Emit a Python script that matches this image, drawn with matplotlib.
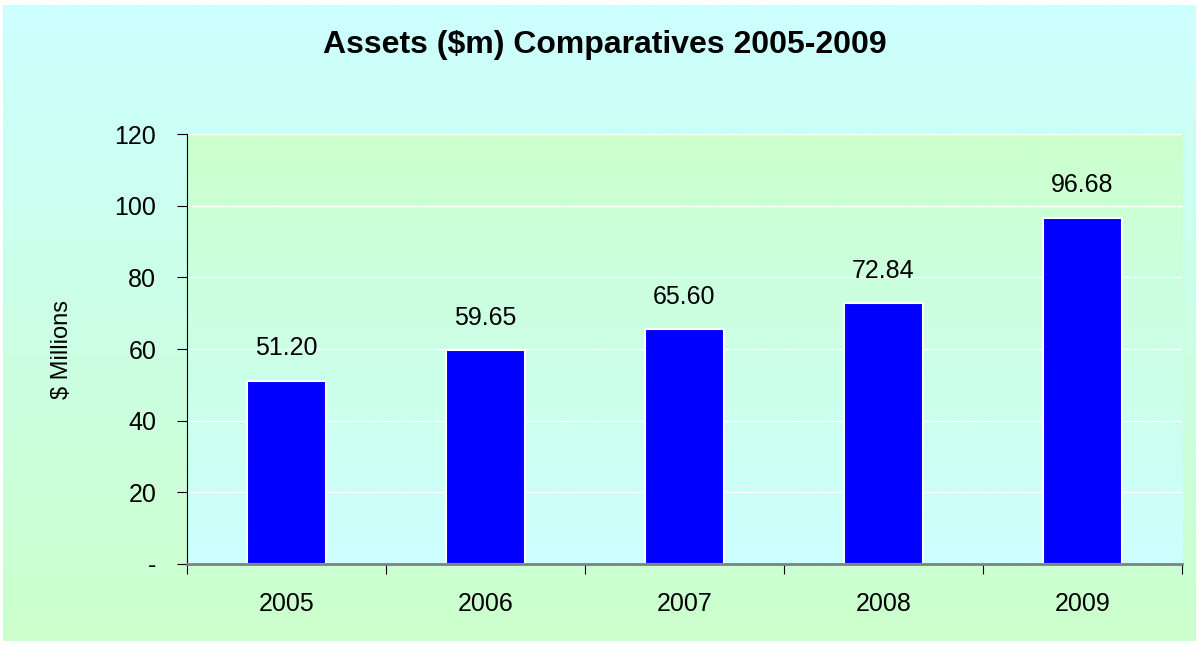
import numpy as np
import matplotlib.pyplot as plt

# --- Data ---
years = ["2005", "2006", "2007", "2008", "2009"]
assets = [51.20, 59.65, 65.60, 72.84, 96.68]
y_ticks = [0, 20, 40, 60, 80, 100, 120]
y_tick_labels = ["-", "20", "40", "60", "80", "100", "120"]

plt.rcParams['font.family'] = ['Liberation Sans', 'DejaVu Sans']

fig = plt.figure(figsize=(11.98, 6.45), dpi=100)
fig.patch.set_facecolor('white')

# background gradient: cyan at top -> light green at bottom
bg = fig.add_axes([0.0025, 0.006, 0.995, 0.986], zorder=-2)
grad = np.linspace(0, 1, 256).reshape(-1, 1)
cyan = np.array([0.80, 1.0, 1.0])
green = np.array([0.80, 1.0, 0.80])
img = cyan + (green - cyan) * grad[:, :, None]
bg.imshow(img, aspect='auto', extent=[0, 1, 0, 1])
bg.axis('off')

ax = fig.add_axes([0.156, 0.1256, 0.8306, 0.6666])
x = np.arange(len(years))
ax.set_xlim(-0.5, len(years) - 0.5)
ax.set_ylim(0, 120)

# plot area gradient: light green at top -> cyan at bottom
img2 = green + (cyan - green) * grad[:, :, None]
ax.imshow(img2, aspect='auto', extent=[-0.5, len(years) - 0.5, 0, 120], zorder=0)

for yt in y_ticks[1:]:
    ax.axhline(yt, color='white', linewidth=1, zorder=1)

bars = ax.bar(x, assets, width=0.4, color='#0000FF', edgecolor='white', linewidth=1.5, zorder=2)

for xi, v in zip(x, assets):
    ax.annotate(f"{v:.2f}", (xi, v), xytext=(0, 14.5), textcoords='offset points',
                ha='center', va='bottom', fontsize=18, zorder=3)

ax.set_yticks(y_ticks)
ax.set_yticklabels(y_tick_labels, fontsize=18)
ax.set_xticks(np.arange(-0.5, len(years)), minor=False)
ax.set_xticklabels([])
ax.set_xticks(x, minor=True)
ax.set_xticklabels(years, minor=True, fontsize=18)
ax.tick_params(axis='x', which='minor', length=0, pad=20)
ax.tick_params(axis='x', which='major', length=7, width=0.8, direction='out')
ax.tick_params(axis='y', length=7, width=0.8, direction='out', pad=15)

for s in ['top', 'right']:
    ax.spines[s].set_visible(False)
ax.spines['left'].set_linewidth(0.8)
ax.spines['bottom'].set_color('#808080')
ax.spines['bottom'].set_linewidth(2)
ax.spines['bottom'].set_zorder(4)

ax.set_ylabel("$ Millions", fontsize=17, labelpad=30)

fig.text(0.505, 0.930, "Assets ($m) Comparatives 2005-2009", ha='center', va='center',
         fontsize=23, fontweight='bold')

fig.savefig("out.png", dpi=100)
